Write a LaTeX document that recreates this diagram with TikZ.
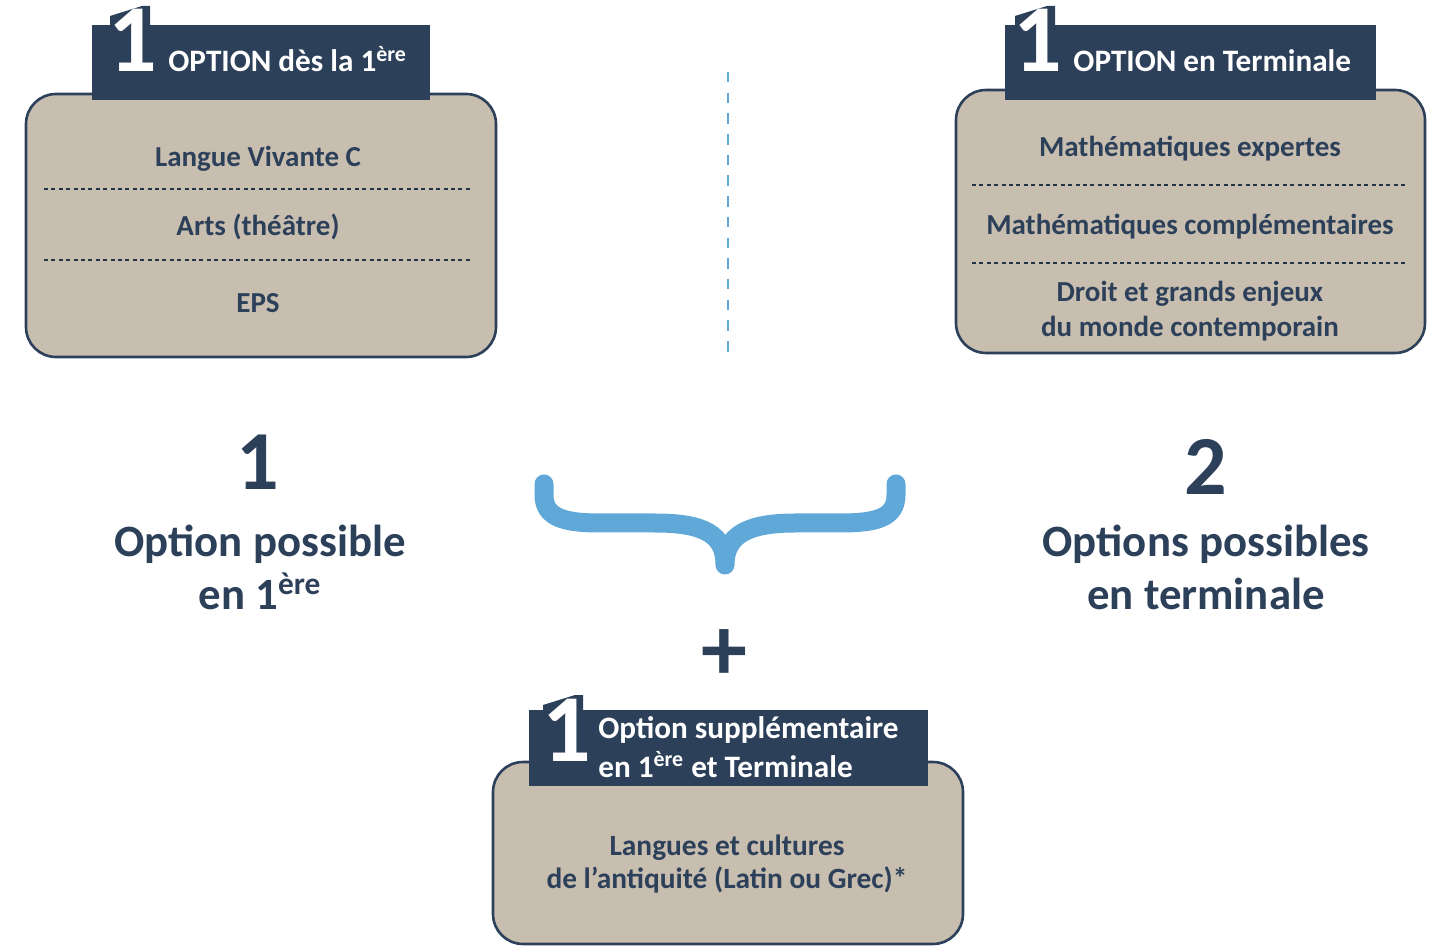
\documentclass[tikz,border=0pt]{standalone}
\usepackage{fontspec}
\setmainfont{Carlito}
\usepackage{tikz}
\usetikzlibrary{positioning}

\definecolor{navy}{HTML}{2D405A}
\definecolor{kraft}{HTML}{C8BEB0}
\definecolor{skyblue}{HTML}{5FA8D8}

% navy cap behind the big white 1 (stem left x, baseline y)
\newcommand{\onecap}[2]{%
\fill[navy] (#1-20,#2-30) -- (#1-20,#2-56) -- (#1+12,#2-66) -- (#1+20,#2-66) -- (#1+20,#2-30) -- cycle;}

\tikzstyle{optbox} = [rectangle, rounded corners=15pt, draw=navy, line width=1.3pt,
fill=kraft, minimum width=235pt, minimum height=131.5pt]
\tikzstyle{banner} = [rectangle, fill=navy, minimum height=37.5pt, inner sep=0pt]
\tikzstyle{bannertext} = [anchor=base west, inner sep=0pt, text=white, align=left,
font=\bfseries\fontsize{15.6}{19.5}\selectfont]
\tikzstyle{bigone} = [anchor=base, inner sep=0pt, text=white, font=\bfseries\fontsize{48}{48}\selectfont]
\tikzstyle{item} = [anchor=base, inner sep=0pt, text=navy, align=center,
font=\bfseries\fontsize{14.5}{17.5}\selectfont]
\tikzstyle{sep} = [draw=navy!80!black, line width=0.6pt, dash pattern=on 2pt off 1.7pt]
\tikzstyle{count} = [anchor=base, inner sep=0pt, text=navy, font=\bfseries\fontsize{42}{42}\selectfont]
\tikzstyle{caption} = [anchor=base, inner sep=0pt, text=navy, align=center,
font=\bfseries\fontsize{22.4}{26.5}\selectfont]

\begin{document}
\begin{tikzpicture}[x=0.5pt, y=-0.5pt]
\useasboundingbox (0,0) rectangle (1436,946);

% left box
\node(box1)[optbox] at (261,225.5){};
\onecap{130}{72}
\node(head1)[banner, minimum width=169pt] at (261,62.5){};
\node(one1)[bigone] at (133,72){1};
\node(title1)[bannertext] at (168,72){OPTION dès la 1\textsuperscript{ère}};
\node(lv)[item] at (258,167){Langue Vivante C};
\node(arts)[item] at (258,236){Arts (théâtre)};
\node(eps)[item] at (258,313){EPS};
\draw[sep] (44,189) -- (473,189);
\draw[sep] (44,260) -- (473,260);

% right box
\node(box2)[optbox, minimum width=234.5pt] at (1190.5,221.5){};
\onecap{1035}{72}
\node(head2)[banner, minimum width=185.5pt] at (1190.5,62.5){};
\node(one2)[bigone] at (1038,72){1};
\node(title2)[bannertext] at (1073,72){OPTION en Terminale};
\node(mexp)[item] at (1190,157){Mathématiques expertes};
\node(mcomp)[item] at (1190,235){Mathématiques complémentaires};
\node(droit)[item] at (1190,337){Droit et grands enjeux\\du monde contemporain};
\draw[sep] (972,185) -- (1405,185);
\draw[sep] (972,263) -- (1405,263);

% separator between the two boxes
\coordinate(midtop) at (728,72);
\coordinate(midbot) at (728,357);
\draw[skyblue, line width=1.35pt, dash pattern=on 5.25pt off 5.1pt] (midtop) -- (midbot);

% counts
\node(num1)[count] at (258,490){1};
\node(txt1)[caption] at (260,610){Option possible\\en 1\textsuperscript{ère}};
\node(num2)[count] at (1206,495){2};
\node(txt2)[caption] at (1206,610){Options possibles\\en terminale};

% brace
\coordinate(braceL) at (544,484);
\coordinate(braceTip) at (725,565);
\coordinate(braceR) at (896,484);
\draw[skyblue, line width=9.5pt, line cap=round, line join=round]
(braceL) -- (544,495) .. controls (544,518) and (565,523) .. (600,523) -- (655,523)
.. controls (705,523) and (725,535) .. (braceTip)
.. controls (725,535) and (748,523) .. (795,523) -- (840,523)
.. controls (876,523) and (896,518) .. (896,495) -- (braceR);

\node(plus)[text=navy, inner sep=0pt, font=\bfseries\fontsize{46}{46}\selectfont] at (724,655){+};

% bottom box
\node(box3)[optbox, minimum height=91pt] at (728,853){};
\onecap{563}{761}
\node(head3)[banner, minimum width=199.5pt, minimum height=38pt] at (728.5,748){};
\node(one3)[bigone] at (567,761){1};
\node(title3)[bannertext] at (598,777){Option supplémentaire\\en 1\textsuperscript{ère} et Terminale};
\node(lca)[item, font=\bfseries\fontsize{14.7}{16.5}\selectfont] at (727,888){Langues et cultures\\de l’antiquité (Latin ou Grec)*};

\end{tikzpicture}
\end{document}
